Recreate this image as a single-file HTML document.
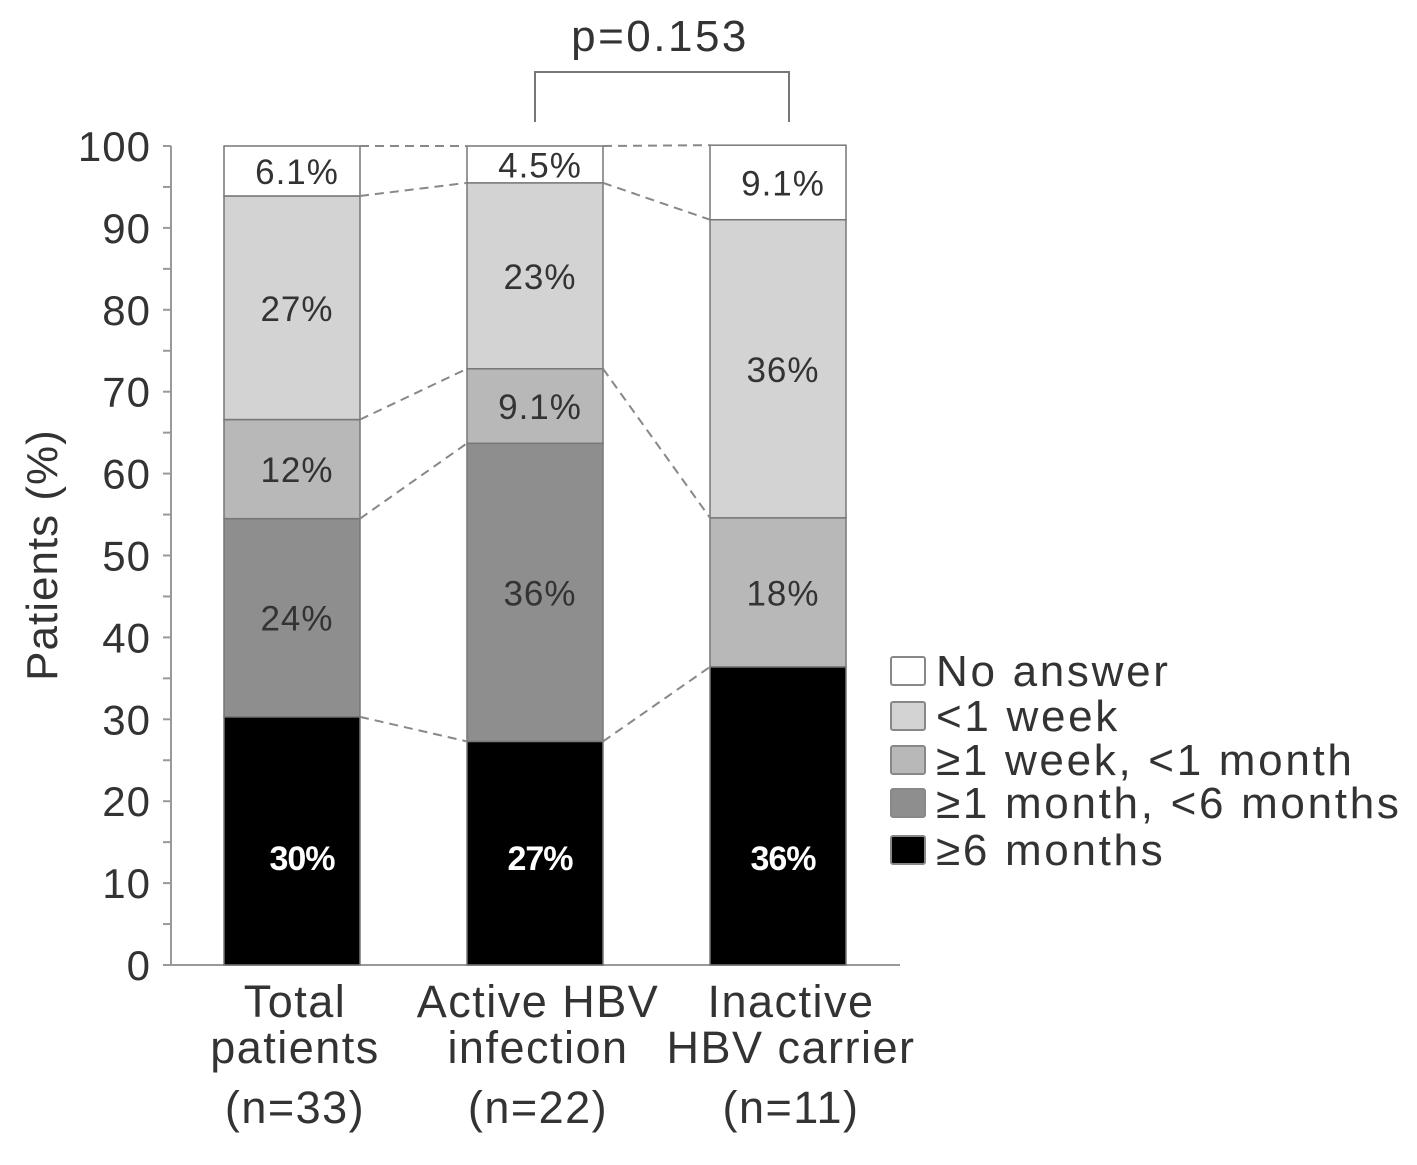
<!DOCTYPE html>
<html><head><meta charset="utf-8"><style>
body{margin:0;background:#fff}
svg text{font-family:"Liberation Sans",sans-serif}
</style></head><body>
<svg id="c" width="1417" height="1160" xmlns="http://www.w3.org/2000/svg"></svg>
<script>
const categories=[["Total","patients","(n=33)"],["Active HBV","infection","(n=22)"],["Inactive","HBV carrier","(n=11)"]];
const seriesNames=["≥6 months","≥1 month, <6 months","≥1 week, <1 month","<1 week","No answer"];
const sixMonths=[30.3,27.3,36.4];
const oneToSixMonths=[24.2,36.4,0];
const weekToMonth=[12.1,9.1,18.2];
const underWeek=[27.3,22.7,36.4];
const noAnswer=[6.1,4.5,9.1];
const labels=[["30%","24%","12%","27%","6.1%"],["27%","36%","9.1%","23%","4.5%"],["36%","","18%","36%","9.1%"]];
const yTicks=[0,10,20,30,40,50,60,70,80,90,100];
const series=[sixMonths,oneToSixMonths,weekToMonth,underWeek,noAnswer];
const colors=["#000","#8e8e8e","#b8b8b8","#d3d3d3","#fff"];
const svg=document.getElementById('c');const NS="http://www.w3.org/2000/svg";
function y(v){return 965-v*8.19;}
const barX=[224,467,710],barW=136;
const catDx=[0,0,10];
function mk(t,a,p){const e=document.createElementNS(NS,t);for(const k in a)e.setAttribute(k,a[k]);(p||svg).appendChild(e);return e;}
let ax=mk('line',{x1:171,y1:y(0),x2:171,y2:y(100),stroke:'#999','stroke-width':2});


let bx=mk('line',{x1:171,y1:y(0),x2:900,y2:y(0),stroke:'#999','stroke-width':2});


for(let v=0;v<=100;v+=5){mk('line',{x1:163,y1:y(v),x2:171,y2:y(v),stroke:'#999','stroke-width':2});}
yTicks.forEach(v=>{const t=mk('text',{x:151,y:y(v)+15,'text-anchor':'end','font-size':42,'letter-spacing':1,fill:'#333'});t.textContent=v;

});
const yt=mk('text',{x:0,y:0,'font-size':44,'letter-spacing':1,fill:'#333','text-anchor':'middle',transform:'translate(57,555) rotate(-90)'});yt.textContent='Patients (%)';


const tops=[];
categories.forEach((c,i)=>{let cum=0;tops[i]=[];
 series.forEach((s,j)=>{const v=s[i];const y0=y(cum),y1=y(cum+v);
  if(v>0){const r=mk('rect',{x:barX[i],y:y1,width:barW,height:y0-y1,fill:colors[j],stroke:'#777','stroke-width':1.5});
  
  
  const lb=labels[i][j];if(lb){const ly=j==0?y(11.6):(y0+y1)/2+13;const t=mk('text',{x:barX[i]+barW/2+(j==0&&i==0?10:5),y:ly,'text-anchor':'middle','font-size':j==0?34:35,'letter-spacing':j==0?-1:1,fill:j==0?'#fff':'#333','font-weight':j==0?'bold':'normal'});t.textContent=lb;
  
  }}
  cum+=v;tops[i].push(cum);});
 c.forEach((l,k)=>{const t=mk('text',{x:barX[i]+barW/2+3+catDx[i],y:1017+k*46+(k==2?14:0),'text-anchor':'middle','font-size':45,'letter-spacing':1.5,fill:'#333'});t.textContent=l;
 
 });
});
for(let i=0;i<2;i++){[0,1,2,3,4].forEach(j=>{
 let a=tops[i][j],b=tops[i+1][j];
 if(i==1&&j==1)return;
 const l=mk('line',{x1:barX[i]+barW,y1:y(a),x2:barX[i+1],y2:y(b),stroke:'#888','stroke-width':2,'stroke-dasharray':'9,6'});
 
 });}
const br=mk('path',{d:'M535 122 V72 H789 V122',fill:'none',stroke:'#777','stroke-width':2});


const pt=mk('text',{x:660,y:51,'text-anchor':'middle','font-size':44,'letter-spacing':2.5,fill:'#333'});pt.textContent='p=0.153';


const legOrder=[4,3,2,1,0];const legY=[671,716,760,803,850];
legOrder.forEach((j,k)=>{const r=mk('rect',{x:891,y:legY[k]-14,width:34,height:28,fill:colors[j],stroke:'#888','stroke-width':2,rx:2});


const t=mk('text',{x:936,y:legY[k]+15,'font-size':44,'letter-spacing':2.7,fill:'#333'});t.textContent=seriesNames[j];

});
</script>
</body></html>
